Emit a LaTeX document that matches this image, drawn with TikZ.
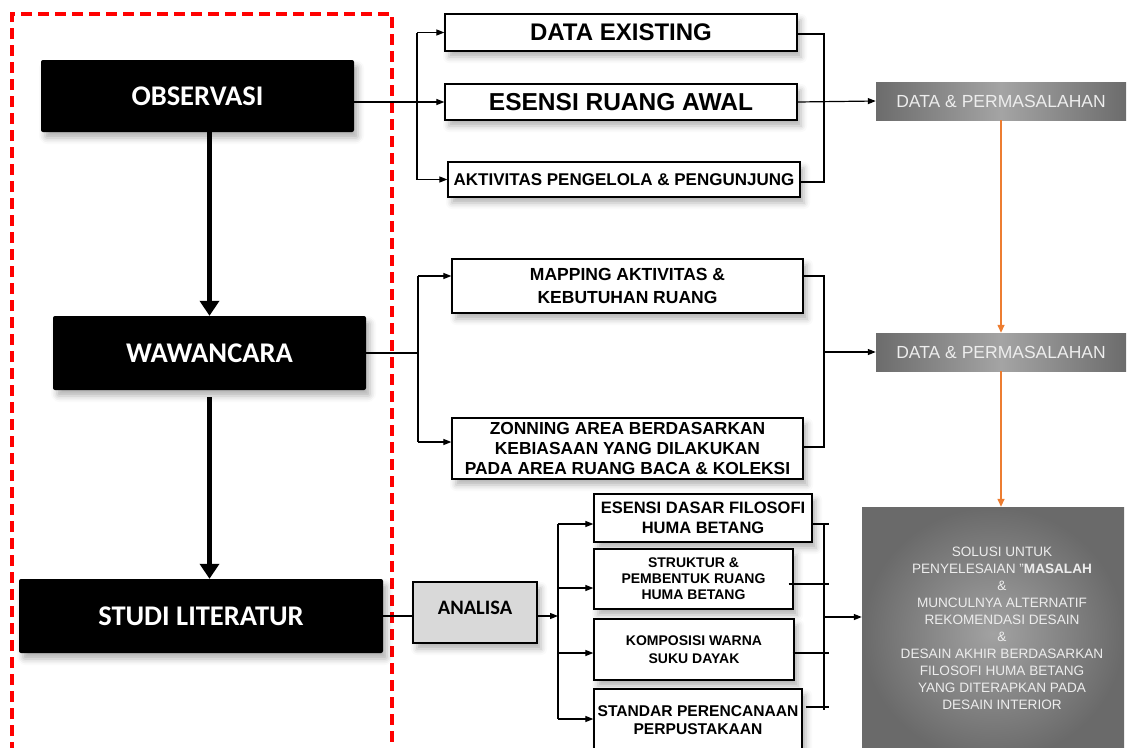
\documentclass[tikz,border=0pt]{standalone}
\usepackage{fontspec}
\setmainfont{Liberation Sans}
\newfontfamily\calibri{Carlito}
\usetikzlibrary{arrows.meta,shadows.blur}
\definecolor{dpdark}{HTML}{6C6C6C}
\definecolor{dplight}{HTML}{A4A4A4}
\definecolor{bigin}{HTML}{A2A2A2}
\definecolor{bigout}{HTML}{6A6A6A}
\definecolor{dptext}{HTML}{EDEDED}
\definecolor{anfill}{HTML}{D9D9D9}
\definecolor{orangeln}{HTML}{ED7D31}
\begin{document}
\begin{tikzpicture}[x=1pt,y=-1pt,
  conn/.style={line width=1.2pt},
  arr/.style={conn,-{Triangle[length=8pt,width=6pt]}},
  bigarr/.style={line width=5pt,-{Triangle[length=15pt,width=19pt]}},
  oarr/.style={draw=orangeln,line width=1.4pt,-{Triangle[length=8pt,width=7pt]},fill=orangeln},
  sh/.style={blur shadow={shadow xshift=4pt,shadow yshift=-6pt,shadow blur radius=6pt,shadow opacity=30}},
  blackbox/.style={sh,fill=black,text=white,rounded corners=2pt,inner sep=0pt,
    font=\calibri\bfseries\fontsize{28.5}{34}\selectfont},
  whitebox/.style={sh,draw=black,line width=1.3pt,fill=white,inner sep=0pt,align=center},
  dpbox/.style={left color=dpdark,right color=dpdark,middle color=dplight,inner sep=0pt,
    text=dptext,font=\fontsize{17.5}{20}\selectfont},
]
\useasboundingbox (0,0) rectangle (1132,747);

% red dashed frame
\draw[red,line width=4pt,dash pattern=on 11pt off 6pt] (12,770) -- (12,14) -- (392,14) -- (392,770);

% left column
\node[blackbox,minimum width=313pt,minimum height=72pt] (obs) at (197.5,96) {OBSERVASI};
\node[blackbox,minimum width=313pt,minimum height=74pt] (waw) at (209.5,353) {WAWANCARA};
\node[blackbox,minimum width=364pt,minimum height=74pt] (stu) at (201,616) {STUDI LITERATUR};

\draw[bigarr] (obs.south -| waw.north) -- (waw.north);
\draw[bigarr,shorten <=7pt] (waw.south) -- (waw.south |- stu.north);

% top group
\node[whitebox,minimum width=352pt,minimum height=37pt,font=\bfseries\fontsize{24}{28}\selectfont] (de) at (621,32.5) {DATA EXISTING};
\node[whitebox,minimum width=352pt,minimum height=36pt,font=\bfseries\fontsize{24.5}{28}\selectfont] (er) at (621,102) {ESENSI RUANG AWAL};
\node[whitebox,minimum width=352pt,minimum height=35pt,font=\bfseries\fontsize{17}{20}\selectfont] (ak) at (624,179.5) {AKTIVITAS PENGELOLA \& PENGUNJUNG};
\node[dpbox,minimum width=250pt,minimum height=38pt] (dp1) at (1001,101) {DATA \& PERMASALAHAN};

\coordinate (tl1) at (417,32.5);
\coordinate (tl2) at (417,179.5);
\draw[conn] (tl1) -- (tl2);
\draw[arr] (tl1) -- (de.west);
\draw[arr] (tl2) -- (ak.west);
\draw[arr] (obs.east |- er.west) -- (er.west);
\coordinate (tr1) at (824,34);
\coordinate (tr2) at (824,182);
\draw[conn] (de.east |- tr1) -- (tr1) -- (tr2) -- (ak.east |- tr2);
\draw[arr] (er.east) -- (dp1.west);

% middle group
\node[whitebox,minimum width=351pt,minimum height=54pt,font=\bfseries\fontsize{17.5}{22.5}\selectfont] (map) at (627.5,286) {MAPPING AKTIVITAS \&\\KEBUTUHAN RUANG};
\node[whitebox,minimum width=351pt,minimum height=61pt,font=\bfseries\fontsize{17.4}{20}\selectfont] (zon) at (627.5,448.5) {ZONNING AREA BERDASARKAN\\KEBIASAAN YANG DILAKUKAN\\PADA AREA RUANG BACA \& KOLEKSI};
\node[dpbox,minimum width=250pt,minimum height=38pt] (dp2) at (1001,352) {DATA \& PERMASALAHAN};

\coordinate (ml0) at (418,353);
\coordinate (ml1) at (418,276);
\coordinate (ml2) at (418,442);
\draw[conn] (waw.east) -- (ml0);
\draw[conn] (ml1) -- (ml2);
\draw[arr] (ml1) -- (map.west |- ml1);
\draw[arr] (ml2) -- (zon.west |- ml2);
\coordinate (mr1) at (824,276);
\coordinate (mr2) at (824,447);
\coordinate (mr0) at (824,352);
\draw[conn] (map.east |- mr1) -- (mr1) -- (mr2) -- (zon.east |- mr2);
\draw[arr] (mr0) -- (dp2.west);

% bottom group
\node[sh,draw=black,line width=1.3pt,fill=anfill,inner sep=0pt,minimum width=124pt,minimum height=61pt,
  font=\calibri\bfseries\fontsize{20.5}{24}\selectfont] (an) at (475,612.5) {\raisebox{10pt}{ANALISA}};
\node[whitebox,minimum width=218pt,minimum height=48pt,font=\bfseries\fontsize{16.5}{20}\selectfont] (ed) at (703,518) {ESENSI DASAR FILOSOFI\\HUMA BETANG};
\node[whitebox,minimum width=199pt,minimum height=60pt,font=\bfseries\fontsize{14}{16}\selectfont] (st) at (693.5,579) {STRUKTUR \&\\PEMBENTUK RUANG\\HUMA BETANG};
\node[whitebox,minimum width=200pt,minimum height=61pt,font=\bfseries\fontsize{14}{18}\selectfont] (ko) at (694,649.5) {KOMPOSISI WARNA\\SUKU DAYAK};
\node[whitebox,minimum width=208pt,minimum height=63pt,font=\bfseries\fontsize{15.6}{18}\selectfont] (sp) at (698,720.5) {STANDAR PERENCANAAN\\PERPUSTAKAAN};
\node[shading=radial,inner color=bigin,outer color=bigout,inner sep=0pt,minimum width=262pt,minimum height=253pt,
  label={[text=dptext,align=center,font=\fontsize{13.6}{17}\selectfont,xshift=9pt,yshift=5pt]center:{SOLUSI UNTUK\\PENYELESAIAN "\textbf{MASALAH}\\\&\\MUNCULNYA ALTERNATIF\\REKOMENDASI DESAIN\\\&\\DESAIN AKHIR BERDASARKAN\\FILOSOFI HUMA BETANG\\YANG DITERAPKAN PADA\\DESAIN INTERIOR}}] (big) at (993,633.5) {};

\coordinate (bl0) at (558,616);
\coordinate (bl1) at (558,524);
\coordinate (bl2) at (558,588);
\coordinate (bl3) at (558,653);
\coordinate (bl4) at (558,719);
\draw[conn] (stu.east |- bl0) -- (an.west |- bl0);
\draw[arr] (an.east |- bl0) -- (bl0);
\draw[conn] (bl1) -- (bl4);
\draw[arr] (bl1) -- (ed.west |- bl1);
\draw[arr] (bl2) -- (st.west |- bl2);
\draw[arr] (bl3) -- (ko.west |- bl3);
\draw[arr] (bl4) -- (sp.west |- bl4);

\coordinate (br1) at (824,524);
\coordinate (br4) at (824,710);
\coordinate (br0) at (824,617);
\draw[conn] (br1) -- (br4);
\draw[conn] (ed.east |- br1) -- ([xshift=5pt]br1);
\draw[conn] ([xshift=-5pt]st.east |- 0,584) -- (829,584);
\draw[conn] ([xshift=-2pt]ko.east |- 0,653) -- (829,653);
\draw[conn] ([xshift=3pt]sp.east |- 0,707) -- (829,707);
\draw[arr] (br0) -- (big.west |- br0);

% orange arrows
\draw[oarr] (dp1.south) -- (dp2.north);
\draw[oarr] (dp2.south) -- (dp2.south |- big.north);
\end{tikzpicture}
\end{document}
